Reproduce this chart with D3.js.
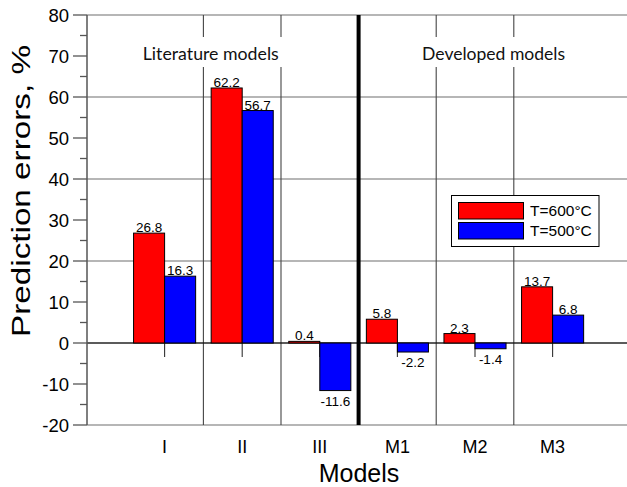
<!DOCTYPE html>
<html>
<head>
<meta charset="utf-8">
<script src="https://cdn.jsdelivr.net/npm/d3@7"></script>
<style>
  html, body { margin: 0; padding: 0; background: #fff; }
  svg { display: block; }
  text { font-family: "Liberation Sans", Arial, sans-serif; }
</style>
</head>
<body>
<div id="chart"></div>
<script>
// Prediction errors of literature and developed models at two temperatures
const categories = ["I", "II", "III", "M1", "M2", "M3"];
const t600 = [26.8, 62.2, 0.4, 5.8, 2.3, 13.7];
const t500 = [16.3, 56.7, -11.6, -2.2, -1.4, 6.8];
const seriesNames = ["T=600°C", "T=500°C"];
const seriesColors = ["#ff0000", "#0000ff"];
const yTicks = d3.range(-20, 81, 10);
const yMinorTicks = d3.range(-15, 80, 10);
const yGrid = d3.range(-20, 81, 20);
const groupNames = ["Literature models", "Developed models"];

const W = 627, H = 487;
const svg = d3.select("#chart").append("svg")
  .attr("width", W).attr("height", H);

// x: categories placed at 1..6, axis spans 0..7
const x = d3.scaleLinear().domain([0, 7]).range([87, 630.2]);
const y = d3.scaleLinear().domain([-20, 80]).range([425, 15]);
const barW = 0.4;
const gridColor = "#6e6e6e";

// horizontal grid lines
svg.append("g").selectAll("line").data(yGrid).join("line")
  .attr("x1", x(0)).attr("x2", W)
  .attr("y1", d => y(d)).attr("y2", d => y(d))
  .attr("stroke", gridColor).attr("stroke-width", 1.2);

// vertical separators between models
const seps = [1.5, 2.5, 4.5, 5.5];
svg.append("g").selectAll("line").data(seps).join("line")
  .attr("x1", d => x(d)).attr("x2", d => x(d))
  .attr("y1", y(80)).attr("y2", y(-20))
  .attr("stroke", "#444").attr("stroke-width", 1.1);

// group captions with white boxes
const groupPos = [1.595, 5.24];
groupNames.forEach((name, i) => {
  const g = svg.append("g");
  const t = g.append("text")
    .attr("x", x(groupPos[i])).attr("y", 60)
    .attr("text-anchor", "middle")
    .style("font-family", "Lato, 'Open Sans', sans-serif")
    .style("font-size", "18px")
    .attr("fill", "#111")
    .text(name);
  const target = i === 0 ? 136 : 143;
  t.attr("textLength", target).attr("lengthAdjust", "spacingAndGlyphs");
  const bb = t.node().getBBox();
  g.insert("rect", "text")
    .attr("x", bb.x - 4).attr("y", 37)
    .attr("width", bb.width + 8).attr("height", 30)
    .attr("fill", "#fff");
});

// thick divider between literature and developed models
svg.append("line")
  .attr("x1", x(3.5)).attr("x2", x(3.5))
  .attr("y1", y(80)).attr("y2", y(-20))
  .attr("stroke", "#000").attr("stroke-width", 4);

// zero line
svg.append("line")
  .attr("x1", x(0)).attr("x2", W)
  .attr("y1", y(0)).attr("y2", y(0))
  .attr("stroke", "#000").attr("stroke-width", 1.2);

// x ticks under the zero line
svg.append("g").selectAll("line").data(categories).join("line")
  .attr("x1", (d, i) => x(i + 1)).attr("x2", (d, i) => x(i + 1))
  .attr("y1", y(0)).attr("y2", y(0) + 14)
  .attr("stroke", "#333").attr("stroke-width", 1.1);

// bars
const series = [t600, t500];
series.forEach((vals, s) => {
  const off = s === 0 ? -barW : 0;
  svg.append("g").selectAll("rect").data(vals).join("rect")
    .attr("x", (d, i) => x(i + 1 + off))
    .attr("width", x(barW) - x(0))
    .attr("y", d => y(Math.max(0, d)))
    .attr("height", d => Math.abs(y(d) - y(0)))
    .attr("fill", seriesColors[s])
    .attr("stroke", "#000").attr("stroke-width", 1);

  svg.append("g").selectAll("text").data(vals).join("text")
    .attr("x", (d, i) => x(i + 1 + off + barW / 2))
    .attr("y", d => d >= 0 ? y(d) - 1 : y(d) + 15)
    .attr("text-anchor", "middle")
    .style("font-size", "13.5px")
    .attr("fill", "#000")
    .text(d => d.toFixed(1));
});

// left axis
svg.append("line")
  .attr("x1", x(0)).attr("x2", x(0))
  .attr("y1", y(80)).attr("y2", y(-20))
  .attr("stroke", "#555").attr("stroke-width", 1.5);
svg.append("g").selectAll("line").data(yTicks).join("line")
  .attr("x1", x(0) - 14).attr("x2", x(0))
  .attr("y1", d => y(d)).attr("y2", d => y(d))
  .attr("stroke", "#555").attr("stroke-width", 1.3);
svg.append("g").selectAll("line").data(yMinorTicks).join("line")
  .attr("x1", x(0) - 7).attr("x2", x(0))
  .attr("y1", d => y(d)).attr("y2", d => y(d))
  .attr("stroke", "#555").attr("stroke-width", 1.3);
svg.append("g").selectAll("text").data(yTicks).join("text")
  .attr("x", 69).attr("y", d => y(d))
  .attr("dy", "0.36em")
  .attr("text-anchor", "end")
  .style("font-size", "18.5px")
  .attr("fill", "#000")
  .text(d => d);

// category labels
svg.append("g").selectAll("text").data(categories).join("text")
  .attr("x", (d, i) => x(i + 1)).attr("y", 453)
  .attr("text-anchor", "middle")
  .style("font-size", "18px")
  .attr("fill", "#000")
  .text(d => d);

// axis titles
svg.append("text")
  .attr("x", 359).attr("y", 482)
  .attr("text-anchor", "middle")
  .style("font-size", "25px")
  .attr("fill", "#000")
  .text("Models");
svg.append("text")
  .attr("transform", "translate(30,191) rotate(-90)")
  .attr("text-anchor", "middle")
  .style("font-size", "26px")
  .attr("textLength", 292).attr("lengthAdjust", "spacingAndGlyphs")
  .attr("fill", "#000")
  .text("Prediction errors, %");

// legend
const lg = svg.append("g");
lg.append("rect")
  .attr("x", 451.5).attr("y", 195.5).attr("width", 147.5).attr("height", 51)
  .attr("fill", "#fff").attr("stroke", "#000").attr("stroke-width", 1);
seriesNames.forEach((name, i) => {
  lg.append("rect")
    .attr("x", 458.5).attr("y", 202.5 + i * 20)
    .attr("width", 65).attr("height", 16.5)
    .attr("fill", seriesColors[i]).attr("stroke", "#000").attr("stroke-width", 1);
  lg.append("text")
    .attr("x", 530).attr("y", 216 + i * 20)
    .style("font-size", "15.5px")
    .attr("fill", "#000")
    .text(name);
});
</script>
</body>
</html>
